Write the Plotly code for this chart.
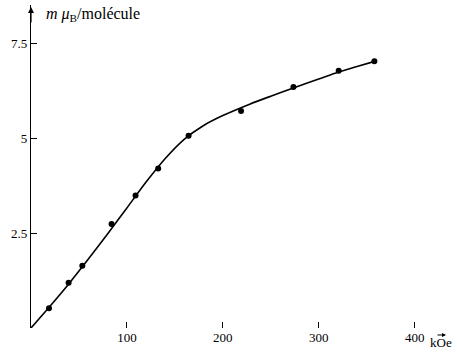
import plotly.graph_objects as go

# measured points (field kOe, moment mu_B/molecule)
field_pts = [18.8, 39.2, 53.5, 84, 109, 132.6, 164.3, 219, 273.6, 320.8, 358]
moment_pts = [0.52, 1.19, 1.64, 2.74, 3.49, 4.20, 5.06, 5.71, 6.34, 6.77, 7.02]

# drawn curve
curve_x = [0, 20, 40, 60, 80, 100, 120, 140, 160, 180, 200, 228, 250, 275, 300, 320, 340, 360]
curve_y = [0, 0.58, 1.18, 1.82, 2.48, 3.16, 3.84, 4.46, 4.97, 5.33, 5.59, 5.89, 6.1, 6.33, 6.55, 6.73, 6.88, 7.03]

x_ticks = [100, 200, 300, 400]
x_labels = ["100", "200", "300", "400"]
y_ticks = [2.5, 5, 7.5]
y_labels = ["2.5", "5", "7.5"]

FAM = "Liberation Serif, Times New Roman, serif"
font = dict(family=FAM, size=13, color="black")

W, H = 457 - 31 - 4, 354 - 5 - 26

fig = go.Figure()
fig.add_trace(go.Scatter(x=curve_x, y=curve_y, mode="lines",
                         line=dict(color="black", width=1.6, shape="spline", smoothing=0.7),
                         hoverinfo="skip", showlegend=False))
fig.add_trace(go.Scatter(x=field_pts, y=moment_pts, mode="markers",
                         marker=dict(color="black", size=6), showlegend=False))

fig.update_layout(
    width=457, height=354,
    margin=dict(l=31, r=4, t=5, b=26),
    paper_bgcolor="white", plot_bgcolor="white",
    font=font,
    xaxis=dict(range=[0, 440], showgrid=False, zeroline=False, showline=False,
               automargin=False,
               tickvals=x_ticks, ticktext=x_labels, ticks="inside", ticklen=6,
               tickcolor="black", tickfont=font),
    yaxis=dict(range=[0, 8.5], showgrid=False, zeroline=False, showline=True,
               automargin=False,
               linecolor="black", linewidth=1.2,
               tickvals=y_ticks, ticktext=y_labels, ticks="inside", ticklen=6,
               tickcolor="black", tickfont=font),
    annotations=[
        dict(x=0, y=8.45, ax=0, ay=8.0, xref="x", yref="y", axref="x", ayref="y",
             text="", showarrow=True, arrowhead=2, arrowsize=1, arrowwidth=1.2,
             arrowcolor="black"),
        dict(x=14, y=8.25, xref="x", yref="y", xanchor="left", yanchor="middle",
             text="<i>m</i> <i>μ</i><sub>B</sub>/molécule", showarrow=False,
             font=dict(family=FAM, size=16, color="black")),
        dict(x=(441 - 31) / W, y=(328 - 342) / H, xref="paper", yref="paper",
             xanchor="center", yanchor="middle", text="kOe", showarrow=False, font=font),
        dict(x=(446 - 31) / W, y=(328 - 335) / H, ax=-10, ay=0,
             xref="paper", yref="paper", axref="pixel", ayref="pixel",
             text="", showarrow=True, arrowhead=2, arrowsize=0.8, arrowwidth=1,
             arrowcolor="black"),
    ],
)

fig.write_html("out.html", config={"displayModeBar": False},
               post_script="document.body.style.margin='0';")
